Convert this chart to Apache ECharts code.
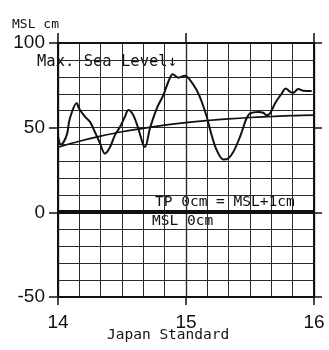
<!DOCTYPE html>
<html>
<head>
<meta charset="utf-8">
<script src="https://cdn.jsdelivr.net/npm/echarts@6/dist/echarts.min.js"></script>
<style>
  html, body { margin: 0; padding: 0; background: #fff; }
  #chart { width: 329px; height: 350px; }
</style>
</head>
<body>
<div id="chart"></div>
<script>
// Observed sea level (cm above MSL) against Japan Standard Time (hours)
const obsTime = [
  14.000, 14.023, 14.068, 14.093, 14.147, 14.163, 14.212, 14.250, 14.288, 14.328,
  14.367, 14.407, 14.445, 14.485, 14.523, 14.550, 14.588, 14.627, 14.667, 14.680,
  14.718, 14.772, 14.823, 14.862, 14.897, 14.940, 14.992, 15.032, 15.083, 15.123,
  15.162, 15.200, 15.240, 15.292, 15.330, 15.370, 15.422, 15.462, 15.473, 15.500,
  15.565, 15.603, 15.630, 15.657, 15.695, 15.748, 15.778, 15.813, 15.838, 15.877,
  15.917, 15.982
];
const obsLevel = [
  45, 40, 45.6, 55.6, 64.5, 61.5, 56.4, 53.4, 47.5, 40.8,
  34.7, 38.6, 45.6, 50.5, 56.5, 60.4, 57.4, 49.5, 39.6, 38.6,
  49.5, 61.4, 69.2, 77.1, 81.5, 79.5, 80.7, 78.1, 72.2, 65.3,
  56.4, 45.6, 36.7, 31.2, 31.8, 35.7, 44.6, 53.4, 55.4, 58.4,
  59.3, 58.8, 57.4, 58.4, 64.3, 70.2, 73.2, 71.2, 70.6, 72.8,
  71.8, 71.6
];

// Predicted (astronomical) tide
const tideTime = [14.0, 14.167, 14.333, 14.5, 14.667, 14.833, 15.0, 15.167, 15.333, 15.5, 15.667, 15.833, 16.0];
const tideLevel = [38.5, 42, 45, 47.6, 49.6, 51.5, 53, 54.2, 55.2, 56, 56.6, 57.1, 57.4];

// Reference levels: MSL 0 cm and TP 0 cm (= MSL + 1 cm)
const refLevels = [0, 1];

const xTickLabels = ['14', '15', '16'];
const yTickLabels = ['-50', '0', '50', '100'];

const toPairs = (xs, ys) => xs.map((x, i) => [x, ys[i]]);

const monoFont = 'DejaVu Sans Mono';
const numFont = 'Liberation Sans';
const ink = '#111';
const gridInk = '#2a2a2a';

const chart = echarts.init(document.getElementById('chart'), null, { renderer: 'canvas' });

const xBase = {
  type: 'value', min: 14, max: 16, interval: 1,
  axisLine: { show: true, onZero: false, lineStyle: { color: ink, width: 2 } },
  splitLine: { show: true, lineStyle: { color: gridInk, width: 1.2 } },
  minorTick: { show: false, splitNumber: 6 },
  minorSplitLine: { show: true, lineStyle: { color: gridInk, width: 1 } }
};
const yBase = {
  type: 'value', min: -50, max: 100, interval: 50,
  axisLine: { show: true, onZero: false, lineStyle: { color: ink, width: 2 } },
  splitLine: { show: true, lineStyle: { color: gridInk, width: 1.2 } },
  minorTick: { show: false, splitNumber: 5 },
  minorSplitLine: { show: true, lineStyle: { color: gridInk, width: 1 } }
};

chart.setOption({
  animation: false,
  backgroundColor: '#fff',
  grid: { left: 58, right: 15, top: 43, bottom: 53, containLabel: false },
  xAxis: [
    Object.assign({}, xBase, {
      position: 'bottom',
      axisTick: { show: true, inside: false, length: 8, lineStyle: { color: ink, width: 1.5 } },
      axisLabel: {
        show: true, margin: 16, color: ink, fontFamily: numFont, fontSize: 19,
        formatter: v => xTickLabels[Math.round(v) - 14]
      }
    }),
    Object.assign({}, xBase, {
      position: 'top',
      axisTick: { show: true, inside: false, length: 10, lineStyle: { color: ink, width: 1.5 } },
      axisLabel: { show: false }
    })
  ],
  yAxis: [
    Object.assign({}, yBase, {
      position: 'left',
      axisTick: { show: true, inside: false, length: 9, lineStyle: { color: ink, width: 1.5 } },
      axisLabel: {
        show: true, margin: 13, color: ink, fontFamily: numFont, fontSize: 19,
        formatter: v => yTickLabels[Math.round((v + 50) / 50)]
      }
    }),
    Object.assign({}, yBase, {
      position: 'right',
      axisTick: { show: true, inside: false, length: 8, lineStyle: { color: ink, width: 1.5 } },
      axisLabel: { show: false }
    })
  ],
  series: [
    {
      name: 'tide',
      type: 'line',
      data: toPairs(tideTime, tideLevel),
      smooth: 0.4,
      symbol: 'none',
      lineStyle: { color: ink, width: 1.6 },
      z: 3
    },
    {
      name: 'observed',
      type: 'line',
      data: toPairs(obsTime, obsLevel),
      smooth: 0.35,
      symbol: 'none',
      lineStyle: { color: ink, width: 2 },
      z: 4,
      markLine: {
        silent: true,
        symbol: 'none',
        label: { show: false },
        lineStyle: { color: ink, width: 2, type: 'solid' },
        data: refLevels.map(v => ({ yAxis: v }))
      }
    }
  ],
  graphic: [
    { type: 'text', left: 12, top: 18, style: { text: 'MSL cm', fontFamily: monoFont, fontSize: 13, fill: ink } },
    { type: 'text', left: 37, top: 54, style: { text: 'Max. Sea Level\u2193', fontFamily: monoFont, fontSize: 15.5, fill: ink } },
    { type: 'text', left: 155, top: 195, style: { text: 'TP 0cm = MSL+1cm', fontFamily: monoFont, fontSize: 14.5, fill: ink } },
    { type: 'text', left: 152, top: 214, style: { text: 'MSL 0cm', fontFamily: monoFont, fontSize: 14.5, fill: ink } },
    { type: 'text', left: 107, top: 328, style: { text: 'Japan Standard', fontFamily: monoFont, fontSize: 14.5, fill: ink } }
  ]
});
</script>
</body>
</html>
